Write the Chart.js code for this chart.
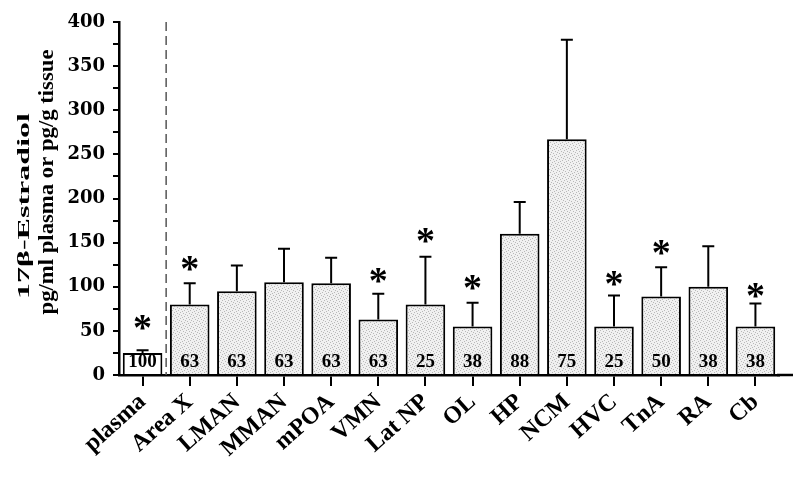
<!DOCTYPE html>
<html>
<head>
<meta charset="utf-8">
<script src="https://cdn.jsdelivr.net/npm/chart.js@4.4.1/dist/chart.umd.min.js"></script>
<style>
  html, body { margin: 0; background: #fff; }
  #wrap { width: 800px; height: 480px; }
</style>
</head>
<body>
<div id="wrap"><canvas id="chart" width="800" height="480"></canvas></div>
<script>
(function () {
  'use strict';

  // data
  var regions = ['plasma', 'Area X', 'LMAN', 'MMAN', 'mPOA', 'VMN', 'Lat NP', 'OL', 'HP', 'NCM', 'HVC', 'TnA', 'RA', 'Cb'];
  var means = [25, 80, 95, 105, 104, 63, 80, 55, 160, 267, 55, 89, 100, 55];
  var sems = [3, 24, 29, 38, 29, 29, 54, 27, 36, 113, 35, 33, 46, 26];
  var nLabels = ['100', '63', '63', '63', '63', '63', '25', '38', '88', '75', '25', '50', '38', '38'];
  // height of the significance asterisk (null = none)
  var starAt = [60, 126, null, null, null, 113, 158, 105, null, null, 109, 144, null, 96];
  var yMax = 400;

  var serif = '"Liberation Serif", "Times New Roman", serif';

  function stipple() {
    var c = document.createElement('canvas');
    c.width = 6; c.height = 6;
    var g = c.getContext('2d');
    g.fillStyle = '#f0f0f0';
    g.fillRect(0, 0, 6, 6);
    g.fillStyle = '#b8b8b8';
    [[0, 0], [3, 1], [1, 3], [4, 4], [2, 5], [5, 2]].forEach(function (p) {
      g.fillRect(p[0], p[1], 1, 1);
    });
    return g.createPattern(c, 'repeat');
  }

  var fill = stipple();
  var fills = regions.map(function (r, i) { return i === 0 ? '#ffffff' : fill; });

  var extras = {
    id: 'extras',
    afterDatasetsDraw: function (chart) {
      var ctx = chart.ctx;
      var y = chart.scales.y;
      var area = chart.chartArea;
      var bars = chart.getDatasetMeta(0).data;

      ctx.save();
      ctx.strokeStyle = '#000';
      ctx.fillStyle = '#000';

      // dashed separator between plasma and brain regions
      var sx = (bars[0].x + bars[1].x) / 2;
      ctx.setLineDash([9, 5]);
      ctx.lineWidth = 1.5;
      ctx.strokeStyle = '#555';
      ctx.beginPath();
      ctx.moveTo(sx, area.top);
      ctx.lineTo(sx, area.bottom);
      ctx.stroke();
      ctx.setLineDash([]);

      // axis line runs a bit past the last bar
      ctx.strokeStyle = '#000';
      ctx.lineWidth = 2.5;
      ctx.beginPath();
      ctx.moveTo(area.right - 2, area.bottom);
      ctx.lineTo(area.right + 14, area.bottom);
      ctx.stroke();

      // error bars (upper only)
      ctx.lineWidth = 2;
      bars.forEach(function (bar, i) {
        var top = y.getPixelForValue(means[i]);
        var cap = y.getPixelForValue(means[i] + sems[i]);
        ctx.beginPath();
        ctx.moveTo(bar.x, top);
        ctx.lineTo(bar.x, cap);
        ctx.moveTo(bar.x - 6, cap);
        ctx.lineTo(bar.x + 6, cap);
        ctx.stroke();
      });

      // n per group
      ctx.font = 'bold 19px ' + serif;
      ctx.textAlign = 'center';
      ctx.textBaseline = 'alphabetic';
      bars.forEach(function (bar, i) {
        ctx.fillText(nLabels[i], bar.x, area.bottom - 8);
      });

      // asterisks
      ctx.font = 'bold 38px ' + serif;
      var m = ctx.measureText('*');
      var shift = (m.actualBoundingBoxAscent - m.actualBoundingBoxDescent) / 2;
      bars.forEach(function (bar, i) {
        if (starAt[i] == null) return;
        ctx.fillText('*', bar.x, y.getPixelForValue(starAt[i]) + shift);
      });
      ctx.restore();
    },
    afterDraw: function (chart) {
      var ctx = chart.ctx;
      var lines = [
        { text: '17\u03b2-Estradiol', size: 17, x: 25, y: 206, len: 186 },
        { text: 'pg/ml plasma or pg/g tissue', size: 21, x: 48, y: 182, len: 265 }
      ];
      ctx.save();
      ctx.fillStyle = '#000';
      ctx.textAlign = 'center';
      ctx.textBaseline = 'middle';
      lines.forEach(function (l) {
        ctx.font = 'bold ' + l.size + 'px ' + serif;
        var w = ctx.measureText(l.text).width;
        ctx.save();
        ctx.translate(l.x, l.y);
        ctx.rotate(-Math.PI / 2);
        ctx.scale(l.len / w, 1);
        ctx.fillText(l.text, 0, 0);
        ctx.restore();
      });
      ctx.restore();
    }
  };

  new Chart(document.getElementById('chart'), {
    type: 'bar',
    data: {
      labels: regions,
      datasets: [{
        data: means,
        backgroundColor: fills,
        borderColor: '#000',
        borderWidth: 2,
        barPercentage: 0.84,
        categoryPercentage: 1.0
      }]
    },
    options: {
      responsive: false,
      animation: false,
      devicePixelRatio: 1,
      layout: { padding: { top: 22, right: 21, left: 0, bottom: 0 } },
      plugins: { legend: { display: false }, tooltip: { enabled: false } },
      scales: {
        x: {
          offset: true,
          grid: { drawOnChartArea: false, offset: false, tickLength: 11, color: '#000', lineWidth: 2 },
          border: { color: '#000', width: 2.5 },
          ticks: {
            color: '#000',
            font: { family: serif, weight: 'bold', size: 24 },
            minRotation: 42,
            maxRotation: 42,
            padding: 2,
            autoSkip: false
          },
          afterFit: function (s) { s.height = 105; }
        },
        y: {
          min: 0,
          max: yMax,
          grid: { drawOnChartArea: false, tickLength: 6, color: '#000', lineWidth: 2 },
          border: { color: '#000', width: 2.5 },
          ticks: {
            stepSize: 25,
            autoSkip: false,
            padding: 8,
            color: '#000',
            font: { family: '"DejaVu Serif", serif', weight: 'bold', size: 18 },
            callback: function (v) { return v % 50 === 0 ? v : ''; }
          },
          afterFit: function (s) { s.width = 119; }
        }
      }
    },
    plugins: [extras]
  });
})();
</script>
</body>
</html>
